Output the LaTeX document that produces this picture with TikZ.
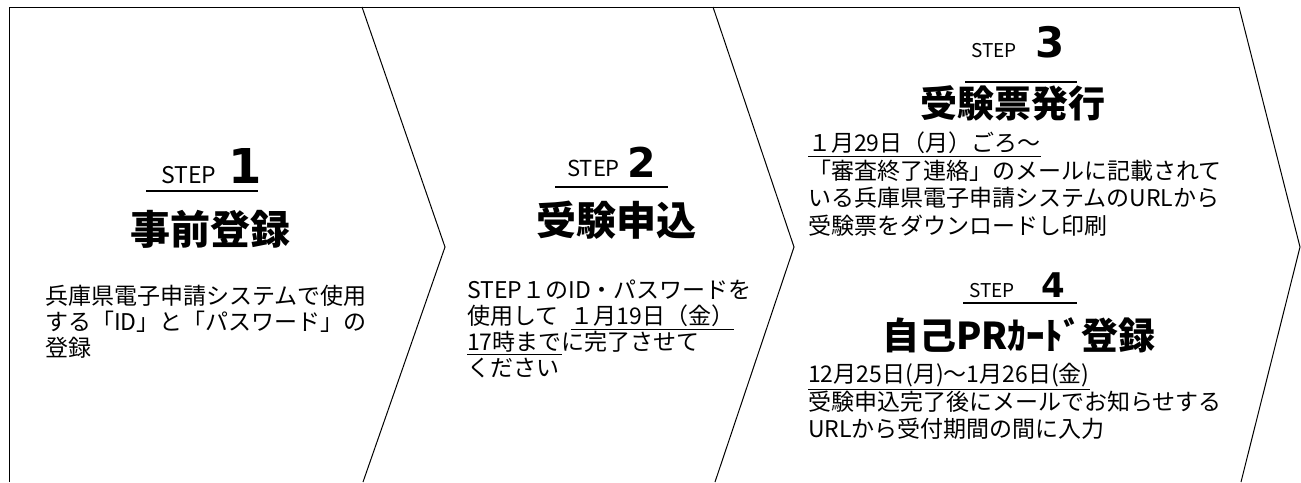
\documentclass[tikz,border=0pt]{standalone}
\usepackage{fontspec}
\setmainfont{Noto Sans CJK JP}
\newfontfamily\numfont{DejaVu Sans}
\newcommand{\ulbox}[1]{\leavevmode\vtop{\hbox{#1}\kern1.5pt\hrule height 1pt}}

\begin{document}
\begin{tikzpicture}[x=1pt,y=-1pt,
    frame/.style={black, line width=1pt},
    steprule/.style={black, line width=2.6pt},
    steplbl/.style={anchor=base west, inner sep=0pt},
    stepno/.style={anchor=base west, inner sep=0pt},
    steptitle/.style={anchor=base, inner sep=0pt},
    stepdesc/.style={anchor=north west, inner sep=0pt, align=left}]
    \useasboundingbox (0,0) rectangle (1301,482);
    % outline of the arrows
    \draw [frame] (9,482) -- (9,7) -- (1239,7);
    \draw [frame] (362,7) -- (445,247) -- (363,482);
    \draw [frame] (713,7) -- (794,247) -- (715,482);
    \draw [frame] (1239,7) -- (1300,247) -- (1241,482);
    % step 1
    \node (lbl1) at (161,183) [steplbl, font=\fontsize{23}{23}\selectfont] {STEP};
    \node (no1) at (228,183) [stepno, font=\numfont\bfseries\fontsize{48}{48}\selectfont] {1};
    \draw [steprule] (146,191) -- (258,191);
    \node (title1) at (210,244) [steptitle, font=\bfseries\fontsize{40}{40}\selectfont] {事前登録};
    \node (desc1) at (45,285) [stepdesc, font=\fontsize{23}{26}\selectfont]
        {兵庫県電子申請システムで使用\\する「ID」と「パスワード」の\\登録};
    % step 2
    \node (lbl2) at (567,176) [steplbl, font=\fontsize{22}{22}\selectfont] {STEP};
    \node (no2) at (627,177) [stepno, font=\numfont\bfseries\fontsize{41}{41}\selectfont] {2};
    \draw [steprule] (555,187) -- (668,187);
    \node (title2) at (616,235) [steptitle, font=\bfseries\fontsize{40}{40}\selectfont] {受験申込};
    \node (desc2) at (467,280) [stepdesc, font=\fontsize{23}{26}\selectfont]
        {STEP１のID・パスワードを\\使用して\hspace{12pt}\ulbox{１月19日（金）}\\\ulbox{17時まで}に完了させて\\ください};
    % step 3
    \node (lbl3) at (971,57) [steplbl, font=\fontsize{19}{19}\selectfont] {STEP};
    \node (no3) at (1035,57) [stepno, font=\numfont\bfseries\fontsize{42}{42}\selectfont] {3};
    \draw [steprule] (965,82) -- (1077,82);
    \node (title3) at (1013,117) [steptitle, font=\bfseries\fontsize{37}{37}\selectfont] {受験票発行};
    \node (desc3) at (808,132) [stepdesc, font=\fontsize{23}{27.5}\selectfont]
        {\ulbox{１月29日（月）ごろ～}\\「審査終了連絡」のメールに記載されて\\いる兵庫県電子申請システムのURLから\\受験票をダウンロードし印刷};
    % step 4
    \node (lbl4) at (969,297) [steplbl, font=\fontsize{19}{19}\selectfont] {STEP};
    \node (no4) at (1041,297) [stepno, font=\numfont\bfseries\fontsize{34}{34}\selectfont] {4};
    \draw [steprule] (963,303) -- (1077,303);
    \node (title4) at (882,349) [steptitle, anchor=base west, font=\bfseries\fontsize{37}{37}\selectfont] {自己PRｶｰﾄﾞ登録};
    \node (desc4) at (808,363) [stepdesc, font=\fontsize{23}{27.5}\selectfont]
        {\ulbox{12月25日(月)～1月26日(金)}\\受験申込完了後にメールでお知らせする\\URLから受付期間の間に入力};
\end{tikzpicture}
\end{document}
